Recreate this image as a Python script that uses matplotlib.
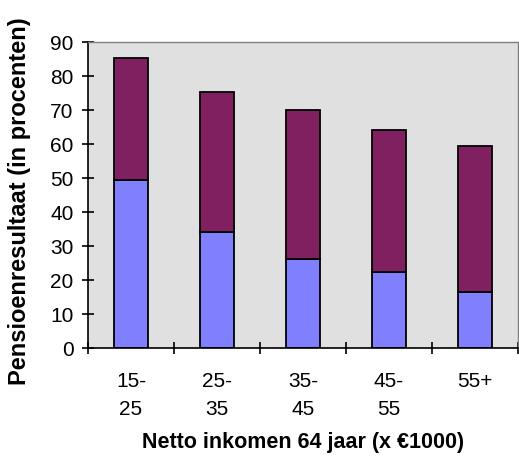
import matplotlib
matplotlib.use('Agg')
import matplotlib.pyplot as plt
import numpy as np

plt.rcParams['font.family'] = ['Liberation Sans', 'DejaVu Sans']

categories = ['15-\n25', '25-\n35', '35-\n45', '45-\n55', '55+\n']
onderste = [49.4, 34.0, 26.3, 22.3, 16.4]
totaal = [85.2, 75.2, 70.0, 64.0, 59.3]
bovenste = [t - o for t, o in zip(totaal, onderste)]

fig = plt.figure(figsize=(5.19, 4.61), dpi=100)
ax = fig.add_axes([88 / 519, 113 / 461, 430 / 519, 306 / 461])
ax.set_facecolor('#E0E0E0')

x = np.arange(len(categories)) + 0.5
ax.bar(x, onderste, width=0.4, color='#8080FF', edgecolor='black', linewidth=1.3)
ax.bar(x, bovenste, width=0.4, bottom=onderste, color='#802060', edgecolor='black', linewidth=1.3)

ax.set_xlim(0, len(categories))
ax.set_ylim(0, 90)
ax.set_yticks(range(0, 91, 10))
ax.tick_params(axis='y', direction='inout', length=9, width=1.2, labelsize=15, pad=6)

ax.set_xticks(x)
ax.set_xticklabels(categories, fontsize=15, linespacing=1.65)
ax.tick_params(axis='x', which='major', length=0, pad=17)
ax.set_xticks(np.arange(len(categories) + 1), minor=True)
ax.tick_params(axis='x', which='minor', direction='inout', length=9, width=1.2)

for s in ['left', 'bottom']:
    ax.spines[s].set_linewidth(1.2)
    ax.spines[s].set_color('black')
for s in ['top', 'right']:
    ax.spines[s].set_color('#808080')
    ax.spines[s].set_linewidth(1.0)

ax.set_xlabel('Netto inkomen 64 jaar (x €1000)', fontsize=15.5, fontweight='bold', va='center')
ax.xaxis.set_label_coords(0.5, -0.31)
ax.set_ylabel('Pensioenresultaat (in procenten)', fontsize=17, fontweight='bold', va='center')
ax.yaxis.set_label_coords(-0.16, 0.48)

fig.savefig('out.png', dpi=100)
